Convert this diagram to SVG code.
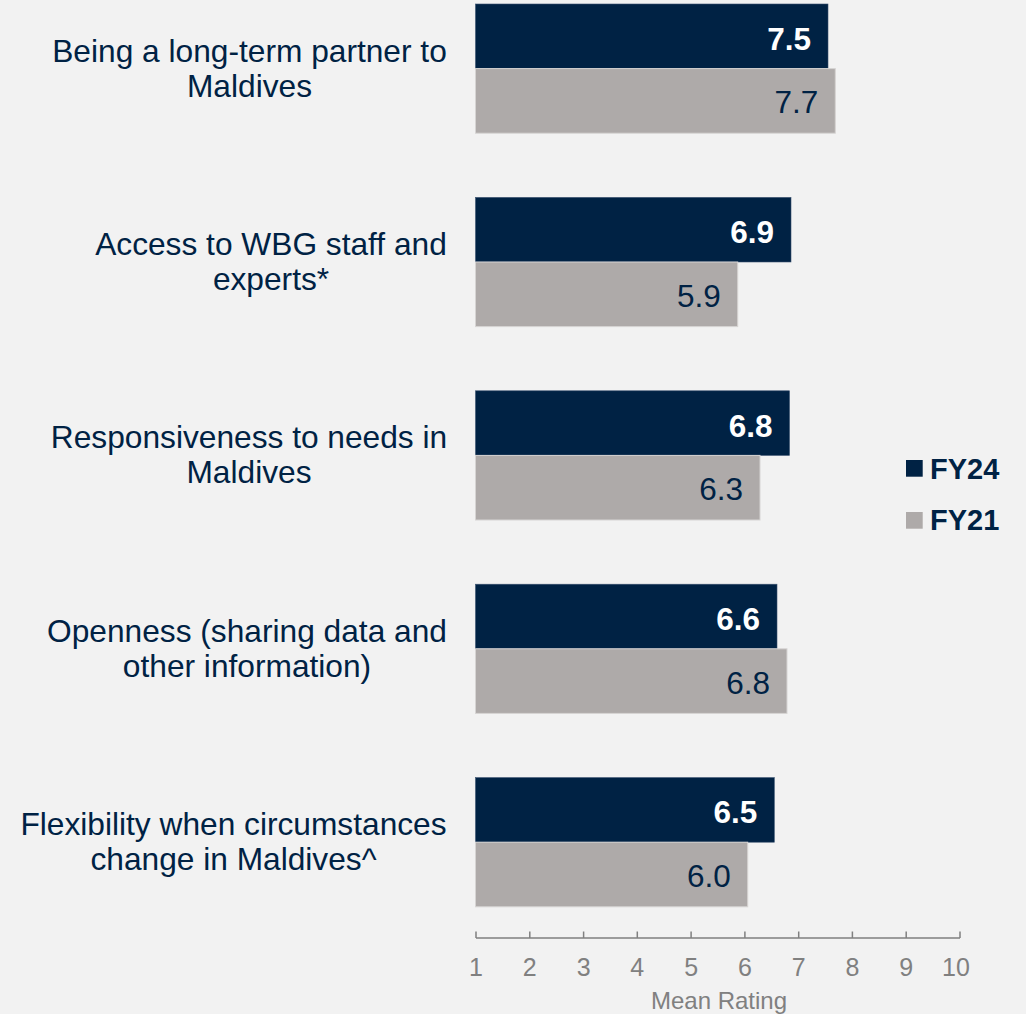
<svg xmlns="http://www.w3.org/2000/svg" width="1026" height="1014" viewBox="0 0 1026 1014">
<style>
.bg{fill:#F2F2F2}
.b24{fill:#002244;stroke:#3a5270;stroke-width:0.6}
.b21{fill:#AEAAA9;stroke:#D6D4D3;stroke-width:1}
.lbl{font-family:"Liberation Sans",Arial,sans-serif;font-size:31.7px;fill:#002244;text-anchor:middle}
.v24{font-family:"Liberation Sans",Arial,sans-serif;font-size:31.5px;font-weight:bold;fill:#FFFFFF;text-anchor:end}
.v21{font-family:"Liberation Sans",Arial,sans-serif;font-size:31.5px;fill:#002244;text-anchor:end}
.tick{font-family:"Liberation Sans",Arial,sans-serif;font-size:25px;fill:#808080;text-anchor:middle}
.axt{font-family:"Liberation Sans",Arial,sans-serif;font-size:24px;fill:#808080;text-anchor:middle}
.axis{stroke:#808080;stroke-width:1.5;fill:none}
.leg{font-family:"Liberation Sans",Arial,sans-serif;font-size:29px;font-weight:bold;fill:#002244}
</style>
<rect class="bg" x="0" y="0" width="1026" height="1014"/>

<g id="row1">
<rect class="b24" x="475.5" y="4" width="352.5" height="64.6"/>
<rect class="b21" x="475.5" y="68.6" width="359.8" height="64.6"/>
<text class="v24" x="811" y="49.8">7.5</text>
<text class="v21" x="818.3" y="113.4">7.7</text>
<text class="lbl" x="249.5" y="61.6">Being a long-term partner to</text>
<text class="lbl" x="249.5" y="96.6">Maldives</text>
</g>

<g id="row2">
<rect class="b24" x="475.5" y="197.4" width="315.5" height="64.6"/>
<rect class="b21" x="475.5" y="262" width="262.2" height="64.6"/>
<text class="v24" x="774" y="243.2">6.9</text>
<text class="v21" x="720.7" y="306.8">5.9</text>
<text class="lbl" x="271" y="255">Access to WBG staff and</text>
<text class="lbl" x="271" y="290">experts*</text>
</g>

<g id="row3">
<rect class="b24" x="475.5" y="390.8" width="314" height="64.6"/>
<rect class="b21" x="475.5" y="455.4" width="284.5" height="64.6"/>
<text class="v24" x="772.5" y="436.6">6.8</text>
<text class="v21" x="743" y="500.2">6.3</text>
<text class="lbl" x="249" y="448.4">Responsiveness to needs in</text>
<text class="lbl" x="249" y="483.4">Maldives</text>
</g>

<g id="row4">
<rect class="b24" x="475.5" y="584.2" width="301.5" height="64.6"/>
<rect class="b21" x="475.5" y="648.8" width="311.5" height="64.6"/>
<text class="v24" x="760" y="630">6.6</text>
<text class="v21" x="770" y="693.6">6.8</text>
<text class="lbl" x="247" y="641.8">Openness (sharing data and</text>
<text class="lbl" x="247" y="676.8">other information)</text>
</g>

<g id="row5">
<rect class="b24" x="475.5" y="777.6" width="298.8" height="64.6"/>
<rect class="b21" x="475.5" y="842.2" width="272.2" height="64.6"/>
<text class="v24" x="757.3" y="823.4">6.5</text>
<text class="v21" x="730.7" y="887">6.0</text>
<text class="lbl" x="233.5" y="835.2">Flexibility when circumstances</text>
<text class="lbl" x="233.5" y="870.2">change in Maldives^</text>
</g>

<g id="axis">
<path class="axis" d="M476 938 H960 M476 931.5 V938 M529.8 931.5 V938 M583.6 931.5 V938 M637.3 931.5 V938 M691.1 931.5 V938 M744.9 931.5 V938 M798.7 931.5 V938 M852.4 931.5 V938 M906.2 931.5 V938 M960 931.5 V938"/>
<text class="tick" x="476" y="976">1</text>
<text class="tick" x="529.8" y="976">2</text>
<text class="tick" x="583.6" y="976">3</text>
<text class="tick" x="637.3" y="976">4</text>
<text class="tick" x="691.1" y="976">5</text>
<text class="tick" x="744.9" y="976">6</text>
<text class="tick" x="798.7" y="976">7</text>
<text class="tick" x="852.4" y="976">8</text>
<text class="tick" x="906.2" y="976">9</text>
<text class="tick" x="956" y="976">10</text>
<text class="axt" x="719" y="1008.5">Mean Rating</text>
</g>

<g id="legend">
<rect x="906" y="460" width="16.7" height="16.7" fill="#002244"/>
<text class="leg" x="930" y="478.5">FY24</text>
<rect x="906" y="512" width="16.7" height="16.7" fill="#AEAAA9"/>
<text class="leg" x="930" y="530">FY21</text>
</g>
</svg>
